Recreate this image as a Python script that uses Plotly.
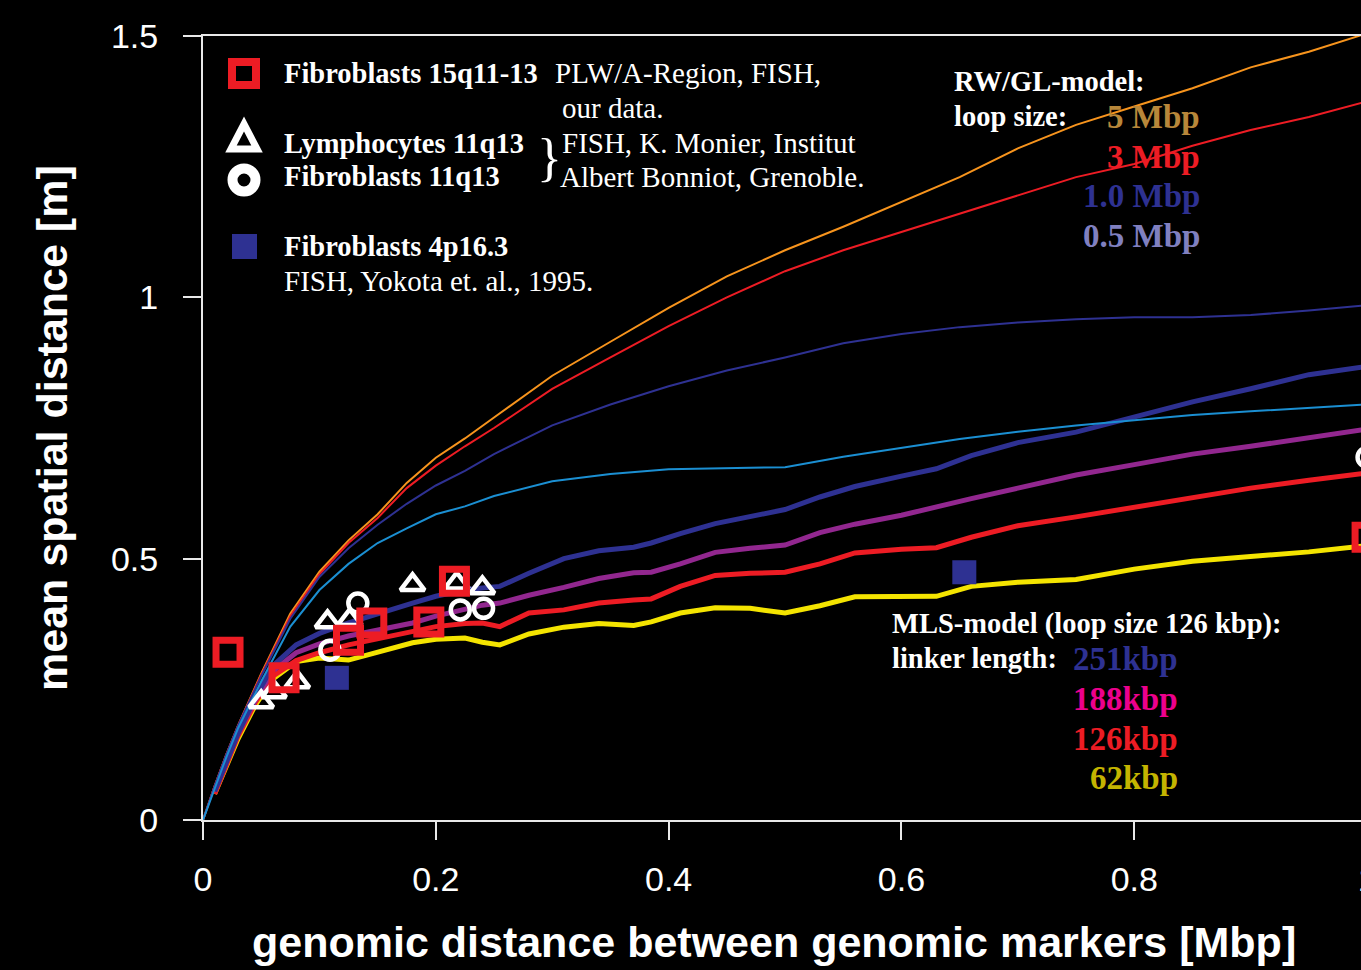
import plotly.graph_objects as go

# ---------------- data ----------------
# RW/GL-model curves (thin lines)
x_rw = [0, 0.01, 0.02, 0.03, 0.05, 0.075, 0.1, 0.125, 0.15, 0.175, 0.2, 0.225, 0.25, 0.3, 0.35,
        0.4, 0.45, 0.5, 0.55, 0.6, 0.65, 0.7, 0.75, 0.8, 0.85, 0.9, 0.95, 1.0]
rw_5mbp = [0, 0.065, 0.125, 0.18, 0.28, 0.395, 0.475, 0.535, 0.585, 0.645, 0.693, 0.73, 0.77, 0.85, 0.915,
           0.98, 1.04, 1.09, 1.135, 1.182, 1.23, 1.285, 1.33, 1.365, 1.40, 1.44, 1.47, 1.505]
rw_3mbp = [0, 0.065, 0.125, 0.18, 0.278, 0.39, 0.47, 0.53, 0.578, 0.635, 0.678, 0.715, 0.75, 0.825, 0.885,
           0.945, 1.0, 1.05, 1.09, 1.125, 1.16, 1.195, 1.23, 1.255, 1.29, 1.32, 1.345, 1.375]
rw_1mbp = [0, 0.065, 0.125, 0.18, 0.275, 0.385, 0.465, 0.52, 0.565, 0.605, 0.64, 0.668, 0.70, 0.755, 0.795,
           0.83, 0.86, 0.885, 0.912, 0.93, 0.943, 0.952, 0.958, 0.962, 0.962, 0.966, 0.975, 0.985]
rw_05mbp = [0, 0.062, 0.12, 0.175, 0.265, 0.37, 0.44, 0.49, 0.53, 0.558, 0.585, 0.60, 0.62, 0.648, 0.662,
            0.671, 0.673, 0.675, 0.695, 0.712, 0.729, 0.743, 0.755, 0.765, 0.775, 0.782, 0.789, 0.795]

# MLS-model curves (thick lines)
x_mls = [0.01, 0.02, 0.03, 0.045, 0.06, 0.08, 0.1, 0.125, 0.15, 0.18, 0.2, 0.225, 0.24, 0.255, 0.28,
         0.31, 0.34, 0.37, 0.385, 0.41, 0.44, 0.47, 0.5, 0.53, 0.56, 0.6, 0.63, 0.66, 0.7, 0.75,
         0.8, 0.85, 0.9, 0.95, 1.0]
mls_251 = [0.055, 0.11, 0.165, 0.235, 0.295, 0.335, 0.357, 0.377, 0.395, 0.415, 0.428, 0.44, 0.444, 0.447, 0.472,
           0.50, 0.515, 0.522, 0.530, 0.548, 0.567, 0.58, 0.594, 0.618, 0.638, 0.658, 0.672, 0.697, 0.722, 0.742,
           0.77, 0.80, 0.825, 0.852, 0.868]
mls_188 = [0.055, 0.11, 0.165, 0.23, 0.285, 0.32, 0.337, 0.352, 0.363, 0.377, 0.39, 0.403, 0.411, 0.415, 0.43,
           0.445, 0.462, 0.473, 0.474, 0.49, 0.512, 0.52, 0.526, 0.55, 0.566, 0.583, 0.60, 0.615, 0.635, 0.66,
           0.68, 0.70, 0.715, 0.732, 0.748]
mls_126 = [0.05, 0.105, 0.16, 0.225, 0.275, 0.305, 0.32, 0.335, 0.347, 0.362, 0.37, 0.376, 0.377, 0.37, 0.396,
           0.402, 0.415, 0.421, 0.423, 0.447, 0.468, 0.472, 0.474, 0.49, 0.511, 0.518, 0.521, 0.541, 0.563, 0.58,
           0.598, 0.618, 0.635, 0.65, 0.664]
mls_62 = [0.05, 0.10, 0.155, 0.22, 0.27, 0.303, 0.31, 0.306, 0.322, 0.339, 0.346, 0.348, 0.34, 0.335, 0.356,
          0.369, 0.376, 0.372, 0.379, 0.396, 0.406, 0.405, 0.396, 0.41, 0.427, 0.428, 0.428, 0.447, 0.455, 0.46,
          0.48, 0.495, 0.503, 0.513, 0.525]

# experimental data
fib15_x = [0.0215, 0.0696, 0.125, 0.145, 0.194, 0.216, 1.0]
fib15_y = [0.321, 0.272, 0.344, 0.377, 0.379, 0.457, 0.541]
lym11_x = [0.050, 0.061, 0.081, 0.107, 0.126, 0.180, 0.218, 0.240]
lym11_y = [0.226, 0.245, 0.264, 0.379, 0.383, 0.450, 0.453, 0.444]
fib11_x = [0.109, 0.133, 0.221, 0.241, 1.0]
fib11_y = [0.325, 0.415, 0.402, 0.405, 0.694]
fib4_x = [0.115, 0.654]
fib4_y = [0.272, 0.474]

x_ticks = [0, 0.2, 0.4, 0.6, 0.8, 1.0]
x_tick_text = ["0", "0.2", "0.4", "0.6", "0.8", "1"]
y_ticks = [0, 0.5, 1, 1.5]
y_tick_text = ["0", "0.5", "1", "1.5"]

# ---------------- styling ----------------
# The original axis runs past the right edge of the picture: the figure is drawn a bit wider
# than the 1361 px window and the overflow is hidden.
W, H = 1361, 970
L, T, B = 203, 36, 150
XSCALE = 1164.0          # px per Mbp
XMAX = 1.03
FIG_W = int(round(L + XSCALE * XMAX))
PW = FIG_W - L
PH = H - T - B

ORANGE = "#F7941D"
RED = "#ED1C24"
DBLUE = "#2E3192"
LBLUE = "#1B8FD2"
PURPLE = "#92278F"
YELLOW = "#F4E400"
WHITE = "#FFFFFF"

SANS = "Liberation Sans, Arial, Helvetica, sans-serif"
SERIF = "Liberation Serif, Times New Roman, serif"


def px(p):
    return (p - L) / PW


def py(p):
    return (H - B - p) / PH


fig = go.Figure()

thick = [(mls_62, YELLOW), (mls_126, RED), (mls_188, PURPLE), (mls_251, DBLUE)]
for ys, c in thick:
    fig.add_trace(go.Scatter(x=x_mls, y=ys, mode="lines", line=dict(color=c, width=5),
                             hoverinfo="skip", showlegend=False))

thin = [(rw_5mbp, ORANGE), (rw_3mbp, RED), (rw_1mbp, DBLUE), (rw_05mbp, LBLUE)]
for ys, c in thin:
    fig.add_trace(go.Scatter(x=x_rw, y=ys, mode="lines", line=dict(color=c, width=2),
                             hoverinfo="skip", showlegend=False))

fig.add_trace(go.Scatter(x=fib4_x, y=fib4_y, mode="markers", cliponaxis=False, showlegend=False,
                         marker=dict(symbol="square", size=24, color=DBLUE, line=dict(width=0))))
fig.add_trace(go.Scatter(x=fib11_x, y=fib11_y, mode="markers", cliponaxis=False, showlegend=False,
                         marker=dict(symbol="circle-open", size=19, color=WHITE, line=dict(width=4.5, color=WHITE))))
fig.add_trace(go.Scatter(x=lym11_x, y=lym11_y, mode="markers", cliponaxis=False, showlegend=False,
                         marker=dict(symbol="triangle-up-open", size=21, color=WHITE,
                                     line=dict(width=4.5, color=WHITE))))
fig.add_trace(go.Scatter(x=fib15_x, y=fib15_y, mode="markers", cliponaxis=False, showlegend=False,
                         marker=dict(symbol="square-open", size=24, color=RED, line=dict(width=7, color=RED))))

# ---------------- legend-like symbols (shapes) ----------------
shapes = []
shapes.append(dict(type="rect", xref="paper", yref="paper", x0=px(232), x1=px(256), y0=py(62), y1=py(85),
                   line=dict(color=RED, width=8), fillcolor="rgba(0,0,0,0)", layer="above"))
shapes.append(dict(type="path", xref="paper", yref="paper",
                   path="M {:.5f},{:.5f} L {:.5f},{:.5f} L {:.5f},{:.5f} Z".format(
                       px(231), py(149), px(257), py(149), px(244), py(124)),
                   line=dict(color=WHITE, width=7), fillcolor="rgba(0,0,0,0)", layer="above"))
shapes.append(dict(type="circle", xref="paper", yref="paper", x0=px(232.5), x1=px(255.5), y0=py(168.5),
                   y1=py(191.5), line=dict(color=WHITE, width=10), fillcolor="rgba(0,0,0,0)", layer="above"))
shapes.append(dict(type="rect", xref="paper", yref="paper", x0=px(232), x1=px(257), y0=py(234), y1=py(259),
                   line=dict(width=0), fillcolor=DBLUE, layer="above"))

# ---------------- annotations ----------------
ann = []


def text(t, x, y, color=WHITE, size=28.5, anchor="left", family=SERIF, bold=False):
    ann.append(dict(text=("<b>%s</b>" % t) if bold else t, xref="paper", yref="paper", x=px(x), y=py(y),
                    xanchor=anchor, yanchor="middle", showarrow=False,
                    font=dict(family=family, size=size, color=color)))


text("Fibroblasts 15q11-13", 282, 73, bold=True)
text("PLW/A-Region, FISH,", 553, 73, size=29)
text("our data.", 560, 108, size=29)
text("Lymphocytes 11q13", 282, 143, bold=True)
text("FISH, K. Monier, Institut", 560, 143, size=29)
text("Fibroblasts 11q13", 282, 177, bold=True)
text("Albert Bonniot, Grenoble.", 558, 177, size=29)
text("}", 535, 157, size=52)
text("Fibroblasts 4p16.3", 282, 246, bold=True)
text("FISH, Yokota et. al., 1995.", 282, 281, size=29)

text("RW/GL-model:", 952, 82, bold=True)
text("loop size:", 952, 116, bold=True)
text("5 Mbp", 1202, 117, color="#B8873A", anchor="right", size=33, bold=True)
text("3 Mbp", 1202, 157, color=RED, anchor="right", size=33, bold=True)
text("1.0 Mbp", 1202, 196, color=DBLUE, anchor="right", size=33, bold=True)
text("0.5 Mbp", 1202, 236, color="#8080C0", anchor="right", size=33, bold=True)

text("MLS-model (loop size 126 kbp):", 890, 624, bold=True)
text("linker length:", 890, 658, bold=True)
text("251kbp", 1180, 659, color=DBLUE, anchor="right", size=33, bold=True)
text("188kbp", 1180, 699, color="#EC008C", anchor="right", size=33, bold=True)
text("126kbp", 1180, 739, color=RED, anchor="right", size=33, bold=True)
text("62kbp", 1180, 778, color="#C4B400", anchor="right", size=33, bold=True)

# axis titles
text("genomic distance between genomic markers [Mbp]", 774, 942, anchor="center", size=43,
     family=SANS, bold=True)
ann.append(dict(text="<b>mean spatial distance [m]</b>", xref="paper", yref="paper", x=px(52), y=py(428),
                xanchor="center", yanchor="middle", showarrow=False, textangle=-90,
                font=dict(family=SANS, size=43, color=WHITE)))

axis_common = dict(showgrid=False, zeroline=False, showline=True, linecolor="#E8E8E8", linewidth=2,
                   ticks="outside", ticklen=18, tickwidth=2, tickcolor="#E8E8E8",
                   tickfont=dict(family=SANS, size=34, color=WHITE))

fig.update_layout(
    width=FIG_W, height=H,
    margin=dict(l=L, r=0, t=T, b=B, pad=0),
    paper_bgcolor="black", plot_bgcolor="black",
    showlegend=False,
    xaxis=dict(range=[0, XMAX], tickvals=x_ticks, ticktext=x_tick_text, mirror=True,
               ticklabelstandoff=10, **axis_common),
    yaxis=dict(range=[0, 1.5], tickvals=y_ticks, ticktext=y_tick_text, mirror=False,
               ticklabelstandoff=18, **axis_common),
    shapes=shapes,
    annotations=ann,
)

fig.write_html(
    "out.html",
    config={"displayModeBar": False},
    post_script=("document.documentElement.style.overflow='hidden';"
                 "document.body.style.overflow='hidden';"
                 "document.body.style.margin='0px';"
                 "document.body.style.background='black';"),
)
